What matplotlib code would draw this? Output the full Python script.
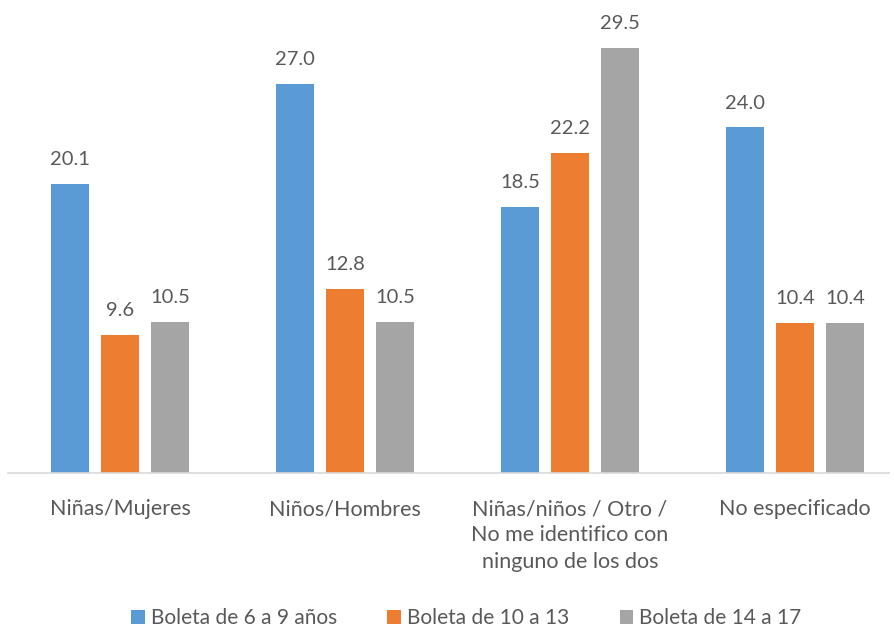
import matplotlib
matplotlib.use("Agg")
import matplotlib.pyplot as plt
import numpy as np

categories = ["Niñas/Mujeres", "Niños/Hombres",
              "Niñas/niños / Otro /\nNo me identifico con\nninguno de los dos",
              "No especificado"]
series_names = ["Boleta de 6 a 9 años", "Boleta de 10 a 13", "Boleta de 14 a 17"]
boleta_6_9 = [20.1, 27.0, 18.5, 24.0]
boleta_10_13 = [9.6, 12.8, 22.2, 10.4]
boleta_14_17 = [10.5, 10.5, 29.5, 10.4]
colors = ["#5b9bd5", "#ed7d31", "#a5a5a5"]

plt.rcParams['font.family'] = ['Lato', 'DejaVu Sans']
txt = "#595959"

fig = plt.figure(figsize=(8.95, 6.27), dpi=100)
ax = fig.add_axes([7.5/895, 154/627, 882/895, 463/627])

x = np.arange(len(categories))
w = 0.17
off = 0.222
for i, (vals, name) in enumerate(zip([boleta_6_9, boleta_10_13, boleta_14_17], series_names)):
    pos = x + (i - 1) * off
    ax.bar(pos, vals, w, color=colors[i], label=name)
    for p, v in zip(pos, vals):
        ax.text(p, v + 1.1, f"{v:.1f}", ha="center", va="bottom", fontsize=14.5, color=txt)

ax.set_xlim(-0.5, -0.5 + 882/225)
ax.set_ylim(0, 463/14.4)
for s in ["top", "right", "left"]:
    ax.spines[s].set_visible(False)
ax.spines["bottom"].set_color("#d9d9d9")
ax.spines["bottom"].set_linewidth(1.2)
ax.set_yticks([])
ax.set_xticks(x)
ax.set_xticklabels(categories, fontsize=15.5, color=txt, linespacing=1.38, va="top")
ax.tick_params(axis="x", length=0, pad=19)

leg = fig.legend(loc="center", bbox_to_anchor=(0.5 + 19/895, 1 - 618/627), ncol=3, frameon=False,
                 fontsize=15, handlelength=0.65, handleheight=0.65, handletextpad=0.3,
                 columnspacing=2.4, labelcolor=txt)

fig.savefig("out.png", dpi=100)
